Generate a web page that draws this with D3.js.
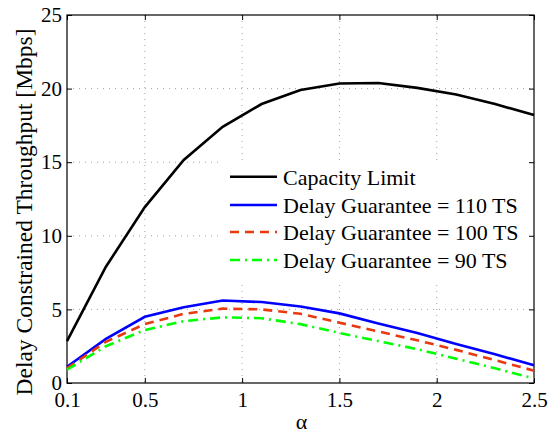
<!DOCTYPE html>
<html>
<head>
<meta charset="utf-8">
<script src="https://cdn.jsdelivr.net/npm/d3@7"></script>
<style>
  html, body { margin: 0; padding: 0; background: #fff; }
  svg { display: block; }
</style>
</head>
<body>
<div id="chart"></div>
<script>
// alpha values (x)
var alphas = [0.1, 0.3, 0.5, 0.7, 0.9, 1.1, 1.3, 1.5, 1.7, 1.9, 2.1, 2.3, 2.5];

// series values (Mbps)
var capacity = [2.85, 7.9, 11.95, 15.15, 17.4, 18.95, 19.9, 20.35, 20.38, 20.05, 19.6, 18.95, 18.2];
var delay110 = [1.1, 3.0, 4.5, 5.15, 5.6, 5.5, 5.2, 4.73, 4.05, 3.4, 2.65, 1.95, 1.2];
var delay100 = [1.0, 2.8, 4.0, 4.7, 5.05, 5.0, 4.7, 4.1, 3.5, 2.9, 2.25, 1.55, 0.84];
var delay90  = [0.9, 2.5, 3.6, 4.2, 4.46, 4.4, 4.0, 3.4, 2.85, 2.3, 1.65, 1.0, 0.3];

var xTicks = [0.1, 0.5, 1, 1.5, 2, 2.5];
var xTickLabels = ["0.1", "0.5", "1", "1.5", "2", "2.5"];
var yTicks = [0, 5, 10, 15, 20, 25];

var seriesNames = ["Capacity Limit", "Delay Guarantee = 110 TS",
                   "Delay Guarantee = 100 TS", "Delay Guarantee = 90 TS"];
var seriesValues = [capacity, delay110, delay100, delay90];
var seriesColors = ["#000000", "#0000ff", "#e83a10", "#00ff00"];
var seriesDash = [null, null, "9,6", "10,5,2,5"];

var W = 552, H = 433;
var ml = 67, mr = 18, mt = 15, mb = 50;
var iw = W - ml - mr, ih = H - mt - mb;
var FONT = "Liberation Serif";

var svg = d3.select("#chart").append("svg")
  .attr("width", W).attr("height", H);

var g = svg.append("g").attr("transform", "translate(" + ml + "," + mt + ")");

var x = d3.scaleLinear().domain([0.1, 2.5]).range([0, iw]);
var y = d3.scaleLinear().domain([0, 25]).range([ih, 0]);

/* grid */
g.append("g").selectAll("line").data(xTicks.slice(1, -1)).enter().append("line")
  .attr("x1", function (d) { return x(d); }).attr("x2", function (d) { return x(d); })
  .attr("y1", 0).attr("y2", ih)
  .attr("stroke", "#888").attr("stroke-width", 0.8).attr("stroke-dasharray", "1,5");
g.append("g").selectAll("line").data(yTicks.slice(1, -1)).enter().append("line")
  .attr("y1", function (d) { return y(d); }).attr("y2", function (d) { return y(d); })
  .attr("x1", 0).attr("x2", iw)
  .attr("stroke", "#888").attr("stroke-width", 0.8).attr("stroke-dasharray", "1,5");

/* legend background (hides grid) */
var lx = 222, ly = 160;
g.append("rect")
  .attr("x", lx - ml).attr("y", ly - mt)
  .attr("width", iw - (lx - ml) - 1).attr("height", 122)
  .attr("fill", "#fff");

/* axes */
var xAxis = d3.axisBottom(x).tickValues(xTicks)
  .tickFormat(function (d, i) { return xTickLabels[i]; })
  .tickSizeInner(-5).tickSizeOuter(0).tickPadding(9);
var yAxis = d3.axisLeft(y).tickValues(yTicks)
  .tickSizeInner(-5).tickSizeOuter(0).tickPadding(5);

var gx = g.append("g").attr("transform", "translate(0," + ih + ")").call(xAxis);
var gy = g.append("g").call(yAxis);
var gxt = g.append("g").call(d3.axisTop(x).tickValues(xTicks).tickSizeInner(-5).tickSizeOuter(0).tickFormat(""));
var gyr = g.append("g").attr("transform", "translate(" + iw + ",0)")
  .call(d3.axisRight(y).tickValues(yTicks).tickSizeInner(-5).tickSizeOuter(0).tickFormat(""));

[gx, gy, gxt, gyr].forEach(function (a) {
  a.attr("font-family", FONT).attr("font-size", 21);
  a.select(".domain").remove();
  a.selectAll("line").attr("stroke", "#000").attr("stroke-width", 1);
  a.selectAll("text").attr("fill", "#000");
});

g.append("rect").attr("x", 0).attr("y", 0).attr("width", iw).attr("height", ih)
  .attr("fill", "none").attr("stroke", "#000").attr("stroke-width", 1.2);

/* lines */
var line = d3.line()
  .x(function (d, i) { return x(alphas[i]); })
  .y(function (d) { return y(d); });

seriesValues.forEach(function (vals, k) {
  g.append("path").datum(vals)
    .attr("d", line)
    .attr("fill", "none")
    .attr("stroke", seriesColors[k])
    .attr("stroke-width", 2.6)
    .attr("stroke-dasharray", seriesDash[k]);
});

/* legend */
var rowY = [176.7, 205, 232, 260];
seriesNames.forEach(function (name, k) {
  svg.append("line")
    .attr("x1", 230).attr("x2", 277)
    .attr("y1", rowY[k]).attr("y2", rowY[k])
    .attr("stroke", seriesColors[k]).attr("stroke-width", 2.6)
    .attr("stroke-dasharray", seriesDash[k]);
  svg.append("text")
    .attr("x", 283).attr("y", rowY[k] + 8)
    .attr("font-family", FONT)
    .attr("font-size", 22).attr("fill", "#000")
    .text(name);
});

/* axis labels */
svg.append("text")
  .attr("x", ml + iw / 2 + 1).attr("y", 429)
  .attr("text-anchor", "middle").attr("font-size", 22)
  .attr("font-family", FONT)
  .text("α");
svg.append("text")
  .attr("transform", "translate(32,212) rotate(-90)")
  .attr("text-anchor", "middle").attr("font-size", 23.5)
  .attr("font-family", FONT)
  .text("Delay Constrained Throughput [Mbps]");
</script>
</body>
</html>
